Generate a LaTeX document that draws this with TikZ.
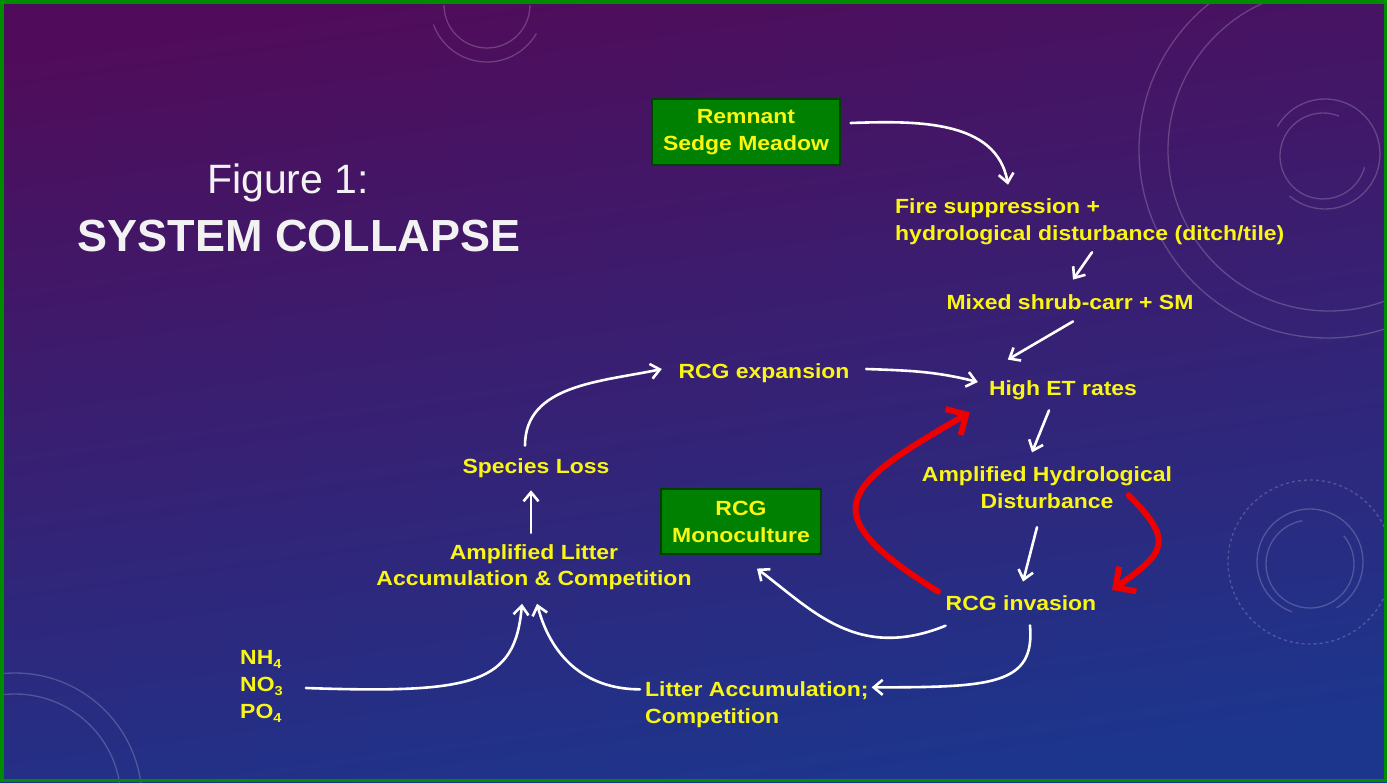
\documentclass[tikz,border=0pt]{standalone}
\usepackage{fontspec}
\setmainfont{Liberation Sans}
\newfontfamily\diagfont[FakeStretch=1.12]{Liberation Sans}
\usetikzlibrary{arrows.meta}
\definecolor{txtyellow}{RGB}{250,246,20}
\definecolor{boxgreen}{RGB}{0,128,0}
\definecolor{frameg}{RGB}{0,140,0}
\definecolor{bgtop}{RGB}{80,12,90}
\definecolor{bgmid}{RGB}{50,32,124}
\definecolor{bgbot}{RGB}{28,54,142}
\definecolor{arrred}{RGB}{238,0,0}
\definecolor{ttlwhite}{RGB}{242,242,242}
\newcommand{\subdig}[1]{\raisebox{-4pt}{\fontsize{13}{13}\selectfont #1}}
\begin{document}
\begin{tikzpicture}[x=1pt,y=1pt,
  lbl/.style={inner sep=0pt, text=txtyellow, font=\diagfont\bfseries\fontsize{20.5}{27}\selectfont, align=center},
  gbox/.style={lbl, draw=black!75!green, line width=1.2pt, fill=boxgreen},
  warr/.style={draw=white, line width=2.6pt, line cap=round, -{Straight Barb[length=9pt,width=15pt]}},
  rarr/.style={draw=arrred, line width=6pt, line cap=round, -{Straight Barb[length=15pt,width=30pt]}},
  deco/.style={draw=white, opacity=0.2, line width=1.3pt}]
\useasboundingbox (0,0) rectangle (1387,-782);
% background
\shade[top color=bgtop, middle color=bgmid, bottom color=bgbot, shading angle=8] (0,0) rectangle (1387,-782);
% decorative rings
\draw[deco] (1327,-150) circle (188);
\draw[deco] (1329,-150) circle (161);
\draw[deco] (1323,-156) ++(68:43) arc (68:345:43);
\draw[deco] (1325,-154) ++(-130:55) arc (-130:150:55);
\draw[deco] (487,-5) ++(180:43) arc (180:360:43);
\draw[deco] (487,-5) ++(200:57) arc (200:330:57);
\draw[deco] (15,-800) circle (127);
\draw[deco] (15,-800) circle (106);
\draw[deco] (1310,-564) ++(100:44) arc (100:400:44);
\draw[deco] (1310,-562) ++(-60:53) arc (-60:250:53);
\draw[deco, dashed] (1310,-562) circle (82);
% frame
\draw[frameg, line width=3.5pt] (1.75,-1.75) rectangle (1385.25,-780.25);
% title
\node[anchor=base, text=ttlwhite, font=\fontsize{41}{48}\selectfont, inner sep=0pt] (ttl1) at (288,-193) {Figure 1:};
\node[anchor=base, text=ttlwhite, font=\bfseries\fontsize{45}{54}\selectfont, inner sep=0pt] (ttl2) at (299,-251) {SYSTEM COLLAPSE};
% nodes
\node[gbox, minimum width=188pt, minimum height=66pt] (rem) at (746,-132) {Remnant\\Sedge Meadow};
\node[lbl, anchor=west, align=left] (fire) at (895,-222) {Fire suppression +\\hydrological disturbance (ditch/tile)};
\node[lbl] (mix) at (1070,-302) {Mixed shrub-carr + SM};
\node[lbl] (high) at (1063,-390) {High ET rates};
\node[lbl] (ahd) at (1047,-488) {Amplified Hydrological\\Disturbance};
\node[lbl] (inv) at (1021,-603) {RCG invasion};
\node[lbl] (exp) at (764,-373) {RCG expansion};
\node[lbl] (loss) at (536,-468) {Species Loss};
\node[lbl, font=\diagfont\bfseries\fontsize{20.5}{26}\selectfont] (alit) at (534,-567) {Amplified Litter\\Accumulation \& Competition};
\node[gbox, minimum width=160pt, minimum height=65pt] (mono) at (741,-521.5) {RCG\\Monoculture};
\node[lbl, anchor=west, align=left] (nut) at (240,-686) {NH\subdig{4}\\NO\subdig{3}\\PO\subdig{4}};
\node[lbl, anchor=west, align=left] (lit) at (645,-705) {Litter Accumulation;\\Competition};
% white connectors
\draw[warr] ([xshift=10pt,yshift=9pt]rem.east) to[out=2,in=100] ([xshift=113pt,yshift=14pt]fire.north west);
\draw[warr] ([xshift=197pt,yshift=-7pt]fire.south west) -- ([xshift=3pt,yshift=14.7pt]mix.north);
\draw[warr] ([xshift=3pt,yshift=-11.7pt]mix.south) -- ([xshift=19pt,yshift=20.6pt]high.north west);
\draw[warr] ([xshift=16.5pt,yshift=4pt]exp.east) to[out=-2,in=166] ([xshift=-11pt,yshift=8pt]high.west);
\draw[warr] ([xshift=-14pt,yshift=-10.6pt]high.south) -- ([xshift=-15pt,yshift=14.4pt]ahd.north);
\draw[warr] ([xshift=-10pt,yshift=-18pt]ahd.south) -- ([xshift=2pt,yshift=13.7pt]inv.north);
\draw[warr] ([yshift=-15pt]inv.south west) to[out=-158,in=-37,out distance=95pt,in distance=70pt] ([xshift=16pt,yshift=-14pt]mono.south);
\draw[warr] ([xshift=9pt,yshift=-14.7pt]inv.south) to[out=-85,in=0,out distance=60pt,in distance=120pt] ([xshift=3pt,yshift=-5.6pt]lit.north east);
\draw[warr] ([xshift=-5pt,yshift=-7.6pt]lit.north west) to[out=180,in=-75,out distance=50pt,in distance=60pt] ([xshift=3pt,yshift=-14pt]alit.south);
\draw[warr] ([xshift=23pt,yshift=-2pt]nut.east) to[out=-2,in=-95,out distance=170pt,in distance=80pt] ([xshift=-12pt,yshift=-14pt]alit.south);
\draw[warr] ([xshift=-3pt,yshift=11.4pt]alit.north) -- ([xshift=-5pt,yshift=-12.5pt]loss.south);
\draw[warr] ([xshift=-11pt,yshift=12.7pt]loss.north) to[out=90,in=192] ([xshift=-16.5pt,yshift=4pt]exp.west);
% red connectors
\draw[rarr] ([xshift=-43.5pt,yshift=14pt]ahd.south east) to[out=-45,in=35,out distance=65pt,in distance=65pt] ([xshift=15.5pt,yshift=13pt]inv.east);
\draw[rarr] ([xshift=-7.5pt,yshift=3.7pt]inv.north west) to[out=148,in=-150,out distance=150pt,in distance=150pt] ([xshift=-19pt,yshift=-12.6pt]high.south west);
\end{tikzpicture}
\end{document}
